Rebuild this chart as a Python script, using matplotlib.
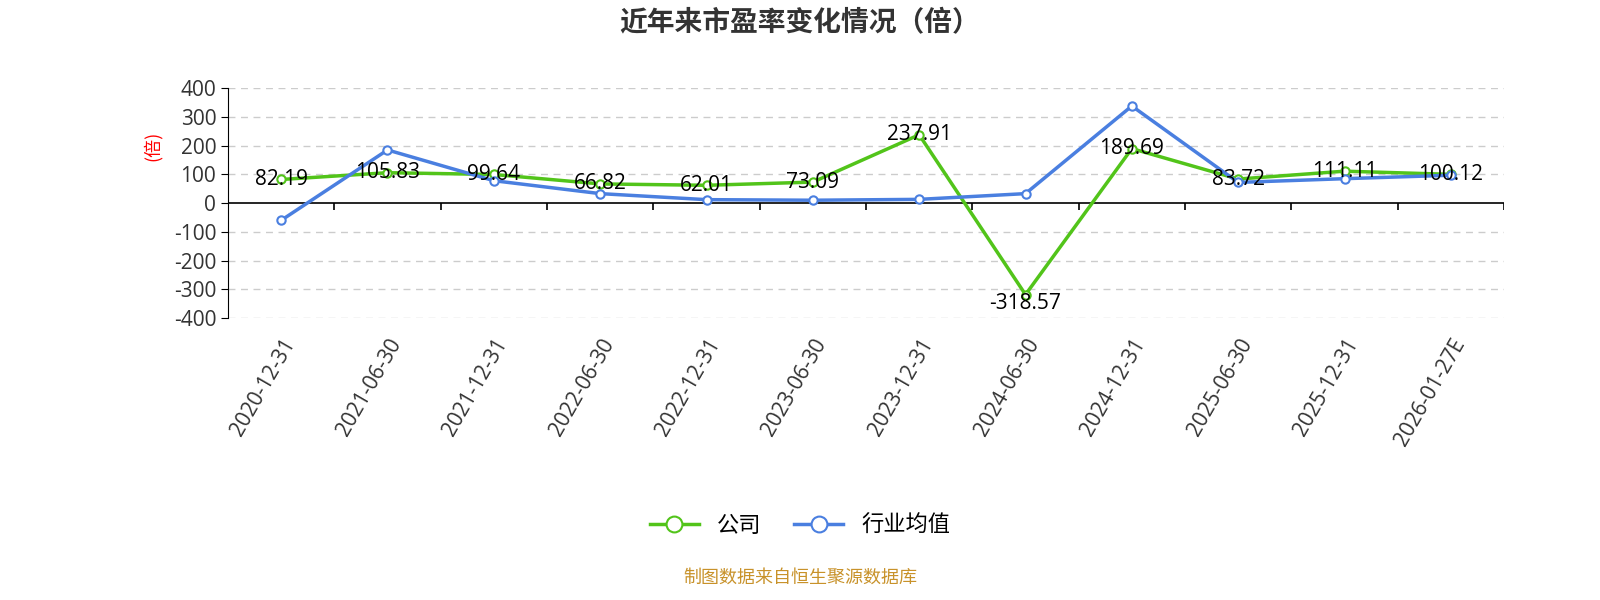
import matplotlib
matplotlib.use("Agg")
import matplotlib.pyplot as plt

plt.rcParams['font.family'] = ['Noto Sans CJK SC', 'DejaVu Sans']

dates = ["2020-12-31","2021-06-30","2021-12-31","2022-06-30","2022-12-31","2023-06-30",
         "2023-12-31","2024-06-30","2024-12-31","2025-06-30","2025-12-31","2026-01-27E"]
company = [82.19,105.83,99.64,66.82,62.01,73.09,237.91,-318.57,189.69,83.72,111.11,100.12]
industry = [-60,185,78,33,12,10,13,33,338,72,85,97]
yticks = [-400,-300,-200,-100,0,100,200,300,400]

green = "#52c41a"
blue = "#4a7fe0"

fig = plt.figure(figsize=(16, 6), dpi=100)
ax = fig.add_axes([0.1425, 0.47, 0.7975, 0.383])
x = list(range(len(dates)))
ax.plot(x, company, color=green, lw=2.5, marker='o', ms=6, mfc='white', mec=green, mew=1.5, label='公司', zorder=3)
ax.plot(x, industry, color=blue, lw=2.5, marker='o', ms=6, mfc='white', mec=blue, mew=1.5, label='行业均值', zorder=3)
for xi, v in zip(x, company):
    dy = -30 if v < 0 else 0
    ax.text(xi, v + dy, f"{v:.2f}", ha='center', va='center', fontsize=15, color='black',
            family=['Open Sans', 'DejaVu Sans'], zorder=4)

ax.set_xlim(-0.5, len(dates) - 0.5)
ax.set_ylim(-400, 400)
ax.set_yticks(yticks)
ax.set_yticklabels([str(t) for t in yticks], fontsize=15, color='#333333', family=['Open Sans', 'DejaVu Sans'])
for t in yticks:
    if t != 0:
        ax.axhline(t, color='#cccccc', lw=1, ls=(0, (5, 4)), zorder=1)
ax.axhline(0, color='black', lw=1.2, zorder=2)
ax.vlines([i + 0.5 for i in range(-1, len(dates))], -25, 0, color='black', lw=1.2)
ax.set_xticks(x)
ax.set_xticklabels(dates, rotation=60, ha='right', rotation_mode='anchor', fontsize=15, color='#333333',
                   family=['Open Sans', 'DejaVu Sans'])
ax.tick_params(axis='x', length=0, pad=12)
ax.tick_params(axis='y', length=5)
for s in ['top', 'right', 'bottom']:
    ax.spines[s].set_visible(False)
ax.spines['left'].set_color('black')
ax.set_ylabel('(倍)', color='red', fontsize=13)
ax.yaxis.set_label_coords(-0.052, 0.75)

fig.text(0.5, 0.962, '近年来市盈率变化情况（倍）', ha='center', va='center', fontsize=20, fontweight='bold', color='#333333')
fig.legend(loc='center', bbox_to_anchor=(0.5, 0.125), ncol=2, frameon=False, fontsize=16,
           markerscale=1.9, handlelength=2.2, columnspacing=1.5)
fig.text(0.5, 0.038, '制图数据来自恒生聚源数据库', ha='center', va='center', fontsize=13, color='#c8922a')
fig.savefig('out.png')
